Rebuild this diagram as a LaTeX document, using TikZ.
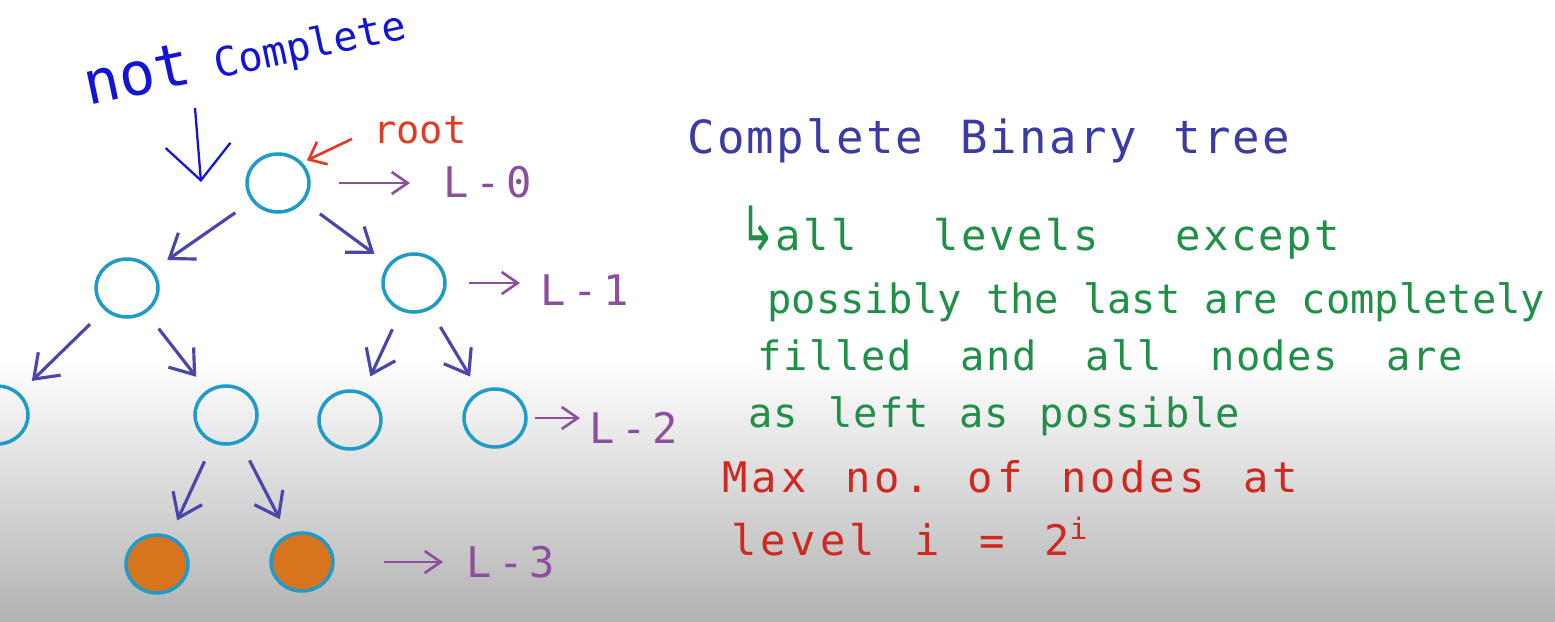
\documentclass[tikz,border=0pt]{standalone}
\usepackage{fontspec}
\newfontfamily\hand{DejaVu Sans Mono}
\newfontfamily\symb{DejaVu Sans}
\usetikzlibrary{arrows.meta,positioning,shapes.geometric}
\definecolor{ringcol}{HTML}{1E9BC8}
\definecolor{leafcol}{HTML}{D8741E}
\definecolor{edgecol}{HTML}{4B47AA}
\definecolor{lvlcol}{HTML}{8C4F9E}
\definecolor{pencol}{HTML}{1414D6}
\definecolor{rootcol}{HTML}{E33A22}
\definecolor{titlecol}{HTML}{3B3BA6}
\definecolor{defcol}{HTML}{1E9048}
\definecolor{maxcol}{HTML}{D0281E}
\definecolor{bgmid}{HTML}{E0E0E0}
\definecolor{bgbot}{HTML}{B2B2B2}
\newcommand\spreadline[2]{\hbox to #1{\frenchspacing\spaceskip=.4em plus 1fil\relax\xspaceskip=\spaceskip\relax #2}}
\tikzset{
  ring/.style   = {ellipse, draw=ringcol, line width=2pt, minimum width=1.24cm,
                   minimum height=1.16cm, inner sep=0pt},
  leaf/.style   = {ring, fill=leafcol},
  edge/.style   = {-{Straight Barb[length=4.4mm,width=6.4mm]}, line width=1.8pt, draw=edgecol,
                   shorten <=0.4cm, shorten >=0.34cm},
  lvl/.style    = {-{Straight Barb[length=3.2mm,width=4.4mm]}, line width=1.5pt, draw=lvlcol},
  lvltxt/.style = {anchor=base west, inner sep=0pt, text=lvlcol,
                   font=\hand\fontsize{24}{24}\selectfont\addfontfeature{LetterSpace=15}},
  note/.style 2 args = {anchor=base west, inner sep=0pt,
                   font=\hand\fontsize{#1}{#1}\selectfont\addfontfeature{LetterSpace=#2}},
}
\begin{document}
\begin{tikzpicture}[x=0.02cm,y=-0.02cm]
  \useasboundingbox (0,0) rectangle (1555,622);
  \fill[white] (0,0) rectangle (1555,622);
  \shade[top color=white,middle color=bgmid,bottom color=bgbot] (0,360) rectangle (1555,622);

  \foreach \n/\x/\y in {n0/278/183,n1a/127/288,n1b/414/283,n2a/-3/415,
                        n2b/226/415,n2c/350/420,n2d/495/418}
    \node[ring] (\n) at (\x,\y) {};
  \foreach \n/\x/\y in {n3a/157/564,n3b/302/562}
    \node[leaf] (\n) at (\x,\y) {};
  \foreach \a/\b in {n0/n1a,n0/n1b,n1a/n2a,n1a/n2b,n1b/n2c,n1b/n2d,n2b/n3a,n2b/n3b}
    \draw[edge] (\a) -- (\b);

  \node[lvltxt] (lv0) at (443,197) {L-0};
  \node[lvltxt] (lv1) at (540,305) {L-1};
  \node[lvltxt] (lv2) at (589,443) {L-2};
  \node[lvltxt] (lv3) at (466,577) {L-3};
  \draw[lvl,shorten <=0.56cm,shorten >=0.66cm] (n0.east) -- (n0.east -| lv0.west);
  \draw[lvl,shorten <=0.44cm,shorten >=0.4cm] (n1b.east) -- (n1b.east -| lv1.west);
  \draw[lvl,shorten <=0.14cm,shorten >=0.18cm] (n2d.east) -- (n2d.east -| lv2.west);
  \draw[lvl,shorten <=0.98cm,shorten >=0.46cm] (n3b.east) -- (n3b.east -| lv3.west);

  \node[anchor=base west,inner sep=0pt,text=rootcol,font=\hand\fontsize{22}{22}\selectfont]
    (rootlbl) at (373,143) {root};
  \draw[-{Straight Barb[length=3mm,width=5mm]},line width=1.5pt,rootcol,shorten >=0.1cm]
    ([shift={(-21,-5)}]rootlbl.south west) -- (n0.40);

  \node[anchor=base west,inner sep=0pt,rotate=12,text=pencol,font=\hand\fontsize{23}{23}\selectfont]
    (nc) at (88,106) {{\fontsize{34}{34}\selectfont not} Complete};
  \coordinate (nca) at (195,108);
  \coordinate (ncb) at (201,182);
  \draw[-{Straight Barb[length=7mm,width=13mm]},line width=1.3pt,pencol] (nca) -- (ncb);

  \node[note={26}{5},text=titlecol] (title) at (687,153)
    {\spreadline{12.06cm}{Complete Binary tree}};
  \node[note={24}{6},text=defcol] (def1) at (740,250)
    {\spreadline{12cm}{\scalebox{1}[1.45]{\symb ↳}all levels except}};
  \node[note={23}{0},text=defcol] (def2) at (767,313)
    {\spreadline{15.56cm}{possibly the last are completely}};
  \node[note={23}{4},text=defcol] (def3) at (757,370)
    {\spreadline{14.12cm}{filled and all nodes are}};
  \node[note={23}{2},text=defcol] (def4) at (748,427)
    {\spreadline{9.84cm}{as left as possible}};
  \node[note={24}{10},text=maxcol] (max1) at (722,492)
    {\spreadline{11.52cm}{Max no. of nodes at}};
  \node[note={24}{10},text=maxcol] (max2) at (731,555)
    {\spreadline{7.14cm}{level i = 2\textsuperscript{i}}};
\end{tikzpicture}
\end{document}
